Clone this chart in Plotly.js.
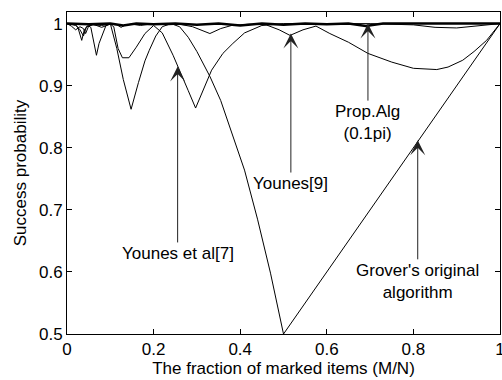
<!DOCTYPE html>
<html>
<head>
<meta charset="utf-8">
<script src="https://cdn.plot.ly/plotly-3.0.1.min.js"></script>
<style>html,body{margin:0;padding:0;background:#fff;}#chart{width:502px;height:380px;}</style>
</head>
<body>
<div id="chart"></div>
<script>
// Grover's original algorithm
var groverX = [0, 0.01, 0.02, 0.025, 0.034, 0.04, 0.048, 0.055, 0.068, 0.074, 0.08, 0.09, 0.1, 0.115, 0.13, 0.148, 0.165, 0.18, 0.19, 0.205, 0.22, 0.24, 0.26, 0.28, 0.3, 0.33, 0.355, 0.38, 0.41, 0.44, 0.47, 0.5, 0.55, 0.6, 0.65, 0.7, 0.75, 0.8, 0.85, 0.9, 0.95, 1.0];
var groverY = [1, 0.999, 0.997, 0.994, 0.973, 0.99, 0.997, 0.994, 0.949, 0.968, 0.978, 0.997, 1.0, 0.96, 0.91, 0.862, 0.905, 0.94, 0.957, 0.98, 0.995, 1.0, 0.995, 0.978, 0.955, 0.915, 0.876, 0.825, 0.764, 0.685, 0.598, 0.5, 0.55, 0.6, 0.65, 0.7, 0.75, 0.8, 0.85, 0.9, 0.95, 1.0];
// Younes et al [7]
var younes7X = [0, 0.02, 0.03, 0.038, 0.045, 0.06, 0.08, 0.1, 0.108, 0.118, 0.128, 0.143, 0.16, 0.18, 0.2, 0.22, 0.245, 0.265, 0.28, 0.297, 0.315, 0.334, 0.36, 0.383, 0.41, 0.45, 0.5, 0.6, 0.7, 0.8, 0.85, 0.9, 0.95, 1.0];
var younes7Y = [1, 0.998, 0.99, 0.98, 0.995, 0.998, 0.997, 0.999, 0.995, 0.96, 0.945, 0.945, 0.962, 0.984, 0.997, 0.985, 0.949, 0.915, 0.892, 0.864, 0.895, 0.925, 0.952, 0.968, 0.985, 0.997, 1.0, 1.0, 1.0, 0.998, 0.994, 0.993, 0.996, 1.0];
// Younes [9]
var younes9X = [0, 0.01, 0.02, 0.03, 0.038, 0.043, 0.05, 0.06, 0.08, 0.1, 0.115, 0.125, 0.135, 0.15, 0.17, 0.2, 0.23, 0.26, 0.29, 0.31, 0.33, 0.355, 0.38, 0.42, 0.46, 0.49, 0.515, 0.545, 0.575, 0.607, 0.65, 0.695, 0.75, 0.8, 0.854, 0.88, 0.914, 0.94, 0.969, 1.0];
var younes9Y = [1, 0.996, 0.99, 0.995, 0.992, 0.984, 0.996, 0.999, 0.994, 0.999, 0.998, 0.994, 0.998, 0.999, 0.997, 1, 0.998, 0.999, 0.995, 0.99, 0.984, 0.992, 0.997, 0.999, 0.998, 0.99, 0.981, 0.99, 0.996, 0.984, 0.97, 0.952, 0.938, 0.928, 0.926, 0.93, 0.941, 0.955, 0.973, 1.0];
// Proposed algorithm (0.1 pi)
var propX = [0, 0.05, 0.1, 0.13, 0.16, 0.2, 0.25, 0.3, 0.35, 0.4, 0.45, 0.5, 0.55, 0.6, 0.65, 0.69, 0.73, 0.8, 0.85, 0.9, 0.95, 1.0];
var propY = [1, 0.999, 1, 0.997, 1, 0.999, 1, 0.998, 1, 0.997, 1, 0.998, 1, 0.999, 1, 0.996, 1, 1, 0.999, 1, 1, 1];

var xTicks = [0, 0.2, 0.4, 0.6, 0.8, 1];
var xTickText = ['0', '0.2', '0.4', '0.6', '0.8', '1'];
var yTicks = [0.5, 0.6, 0.7, 0.8, 0.9, 1];
var yTickText = ['0.5', '0.6', '0.7', '0.8', '0.9', '1'];

var FONT = 'Liberation Sans, Arial, sans-serif';
var FS = 17;
function line(x, y, w, name) {
  return {x: x, y: y, type: 'scatter', mode: 'lines', name: name,
    line: {color: '#000', width: w}, hoverinfo: 'skip'};
}
var data = [
  line(groverX, groverY, 1, "Grover"),
  line(younes7X, younes7Y, 1, "Younes et al[7]"),
  line(younes9X, younes9Y, 1, "Younes[9]"),
  line(propX, propY, 2.5, "Prop.Alg")
];
function ann(x, y, ay, text) {
  return {x: x, y: y, xref: 'x', yref: 'y', ax: 0, ay: ay, text: text,
    showarrow: true, arrowhead: 3, arrowsize: 2.5, arrowwidth: 1, arrowcolor: '#222',
    font: {family: FONT, size: FS, color: '#000'}, align: 'center', standoff: 0};
}
var layout = {
  width: 502, height: 380,
  margin: {l: 67, r: 2, t: 12, b: 46},
  paper_bgcolor: '#fff', plot_bgcolor: '#fff',
  showlegend: false,
  font: {family: FONT, size: FS, color: '#000'},
  xaxis: {range: [0, 1], tickvals: xTicks, ticktext: xTickText, ticklabeloverflow: 'allow',
    ticks: 'inside', ticklen: 5, tickcolor: '#000', showline: true, linecolor: '#000', linewidth: 1,
    mirror: 'ticks', showgrid: false, zeroline: false, tickfont: {family: FONT, size: FS},
    title: {text: 'The fraction of marked items (M/N)', font: {family: FONT, size: FS}, standoff: 1}},
  yaxis: {range: [0.5, 1.0187], tickvals: yTicks, ticktext: yTickText,
    ticks: 'inside', ticklen: 5, tickcolor: '#000', showline: true, linecolor: '#000', linewidth: 1,
    mirror: 'ticks', showgrid: false, zeroline: false, tickfont: {family: FONT, size: FS},
    title: {text: 'Success probability', font: {family: FONT, size: FS}, standoff: 8}},
  annotations: [
    ann(0.2555, 0.931, 187, 'Younes et al[7]'),
    ann(0.517, 0.984, 150, 'Younes[9]'),
    ann(0.695, 1.0, 99, 'Prop.Alg<br>(0.1pi)'),
    ann(0.81, 0.812, 141, "Grover's original<br>algorithm")
  ]
};
Plotly.newPlot('chart', data, layout, {staticPlot: true});
</script>
</body>
</html>
